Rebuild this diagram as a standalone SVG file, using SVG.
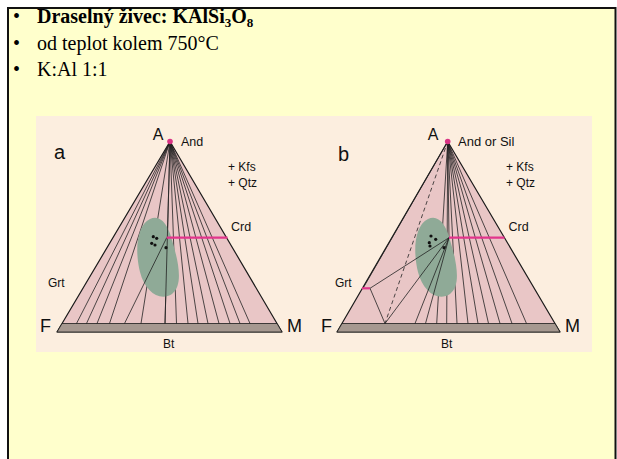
<svg xmlns="http://www.w3.org/2000/svg" width="617" height="459" viewBox="0 0 617 459">
<style>
.bt{font-family:"Liberation Serif","Times New Roman",serif;font-size:20px;fill:#000}
.lb{font-family:"Liberation Sans",Arial,sans-serif;fill:#111}
.tri{fill:#E9C6C6;stroke:#1a1a1a;stroke-width:1.2;stroke-linejoin:round}
.band{fill:#A69890;stroke:#1a1a1a;stroke-width:0.8}
.tie{stroke:#222;stroke-width:0.8;fill:none}
.mag{stroke:#E2358C;stroke-width:2.2;fill:none}
.blob{fill:#8FAA97}
</style>
<rect x="0" y="0" width="617" height="459" fill="#fff"/>
<rect id="frame" x="8" y="8" width="607.5" height="460" fill="#FFFFCC" stroke="#111" stroke-width="2"/>
<g id="bullets">
<text class="bt" x="13" y="23">•</text>
<text class="bt" x="37" y="23" font-weight="bold">Draselný živec: KAlSi<tspan font-size="13" dy="4">3</tspan><tspan dy="-4">O</tspan><tspan font-size="13" dy="4">8</tspan></text>
<text class="bt" x="13" y="49.5">•</text>
<text class="bt" x="37" y="49.5">od teplot kolem 750°C</text>
<text class="bt" x="13" y="76">•</text>
<text class="bt" x="37" y="76">K:Al 1:1</text>
</g>
<rect id="figbg" x="36" y="116" width="556" height="236" fill="#FCEEDF"/>
<g id="panel-a">
<polygon class="tri" points="170,141.5 57,332 282,332"/>
<polygon class="band" points="62,323.5 277,323.5 282,332 57,332"/>
<g class="tie">
<line x1="170" y1="141.5" x2="76.5" y2="323.5"/>
<line x1="170" y1="141.5" x2="86.5" y2="323.5"/>
<line x1="170" y1="141.5" x2="97" y2="323.5"/>
<line x1="170" y1="141.5" x2="109.5" y2="323.5"/>
<line x1="170" y1="141.5" x2="141" y2="323.5"/>
<line x1="170" y1="141.5" x2="165" y2="323.5"/>
<line x1="170" y1="141.5" x2="176.5" y2="323.5"/>
<line x1="170" y1="141.5" x2="188" y2="323.5"/>
<line x1="170" y1="141.5" x2="198" y2="323.5"/>
<line x1="170" y1="141.5" x2="208" y2="323.5"/>
<line x1="170" y1="141.5" x2="219" y2="323.5"/>
<line x1="170" y1="141.5" x2="230" y2="323.5"/>
<line x1="170" y1="141.5" x2="240" y2="323.5"/>
<line x1="170" y1="141.5" x2="250" y2="323.5"/>
</g>
<path class="blob" d="M150,219 C160,214 168,224 172,240 C178,260 184,285 172,294 C160,302 145,292 140,272 C135,252 136,226 150,219 Z"/>
<g class="tie">
<line x1="166.7" y1="237.7" x2="124.5" y2="323.5"/>
<line x1="170" y1="141.5" x2="165" y2="323.5"/>
</g>
<line class="mag" x1="166.7" y1="237.7" x2="227.5" y2="237.7"/>
<circle cx="170" cy="141.5" r="2.8" fill="#D93384"/>
<g fill="#111">
<circle cx="153.3" cy="236.7" r="1.6"/><circle cx="156.7" cy="238.3" r="1.6"/>
<circle cx="151.7" cy="243.3" r="1.6"/><circle cx="155" cy="245" r="1.6"/>
<circle cx="166" cy="247.7" r="1.6"/>
</g>
<text class="lb" x="158" y="140" font-size="16" text-anchor="middle">A</text>
<text class="lb" x="181" y="146" font-size="12.5">And</text>
<text class="lb" x="54" y="159" font-size="20">a</text>
<text class="lb" x="228" y="171" font-size="12">+ Kfs</text>
<text class="lb" x="228" y="187" font-size="12">+ Qtz</text>
<text class="lb" x="231" y="231" font-size="12.5">Crd</text>
<text class="lb" x="48" y="287" font-size="12">Grt</text>
<text class="lb" x="40" y="332" font-size="18">F</text>
<text class="lb" x="287" y="332" font-size="18">M</text>
<text class="lb" x="163" y="347.5" font-size="12">Bt</text>
</g>
<g id="panel-b">
<polygon class="tri" points="447.7,141.5 337,332 560,332"/>
<polygon class="band" points="342,323.5 555,323.5 560,332 337,332"/>
<g class="tie">
<line x1="447.7" y1="141.5" x2="363" y2="288.3"/>
<line x1="447.7" y1="141.5" x2="449" y2="237.7"/>
<line x1="447.7" y1="141.5" x2="436.7" y2="323.5"/>
<line x1="447.7" y1="141.5" x2="446.7" y2="323.5"/>
<line x1="447.7" y1="141.5" x2="457" y2="323.5"/>
<line x1="447.7" y1="141.5" x2="468" y2="323.5"/>
<line x1="447.7" y1="141.5" x2="478" y2="323.5"/>
<line x1="447.7" y1="141.5" x2="488.5" y2="323.5"/>
<line x1="447.7" y1="141.5" x2="500" y2="323.5"/>
<line x1="447.7" y1="141.5" x2="512" y2="323.5"/>
<line x1="447.7" y1="141.5" x2="526.5" y2="323.5"/>
<line x1="447.7" y1="141.5" x2="385" y2="323.5" stroke-dasharray="4,3"/>
</g>
<path class="blob" d="M428,219 C438,214 446,224 450,240 C456,260 462,285 450,294 C438,302 423,292 418,272 C413,252 414,226 428,219 Z"/>
<g class="tie">
<line x1="449" y1="237.7" x2="385" y2="323.5"/>
<line x1="449" y1="237.7" x2="415" y2="323.5"/>
<line x1="449" y1="237.7" x2="425.5" y2="323.5"/>
<line x1="370" y1="288.3" x2="449" y2="237.7"/>
<line x1="370" y1="288.3" x2="385" y2="323.5"/>
</g>
<line class="mag" x1="449" y1="237.7" x2="504.5" y2="237.7"/>
<line class="mag" x1="362" y1="288.3" x2="370" y2="288.3"/>
<circle cx="447.7" cy="141.5" r="2.8" fill="#D93384"/>
<g fill="#111">
<circle cx="431" cy="236" r="1.6"/><circle cx="435.7" cy="239.3" r="1.6"/>
<circle cx="429.3" cy="242.7" r="1.6"/><circle cx="430" cy="246" r="1.6"/>
<circle cx="444" cy="247.7" r="1.6"/>
</g>
<text class="lb" x="433" y="140" font-size="16" text-anchor="middle">A</text>
<text class="lb" x="458" y="146" font-size="13">And or Sil</text>
<text class="lb" x="338" y="161" font-size="20">b</text>
<text class="lb" x="506" y="171" font-size="12">+ Kfs</text>
<text class="lb" x="506" y="187" font-size="12">+ Qtz</text>
<text class="lb" x="508.5" y="231" font-size="12.5">Crd</text>
<text class="lb" x="335" y="287" font-size="12">Grt</text>
<text class="lb" x="321" y="332" font-size="18">F</text>
<text class="lb" x="565" y="332" font-size="18">M</text>
<text class="lb" x="441" y="347.5" font-size="12">Bt</text>
</g>
</svg>
